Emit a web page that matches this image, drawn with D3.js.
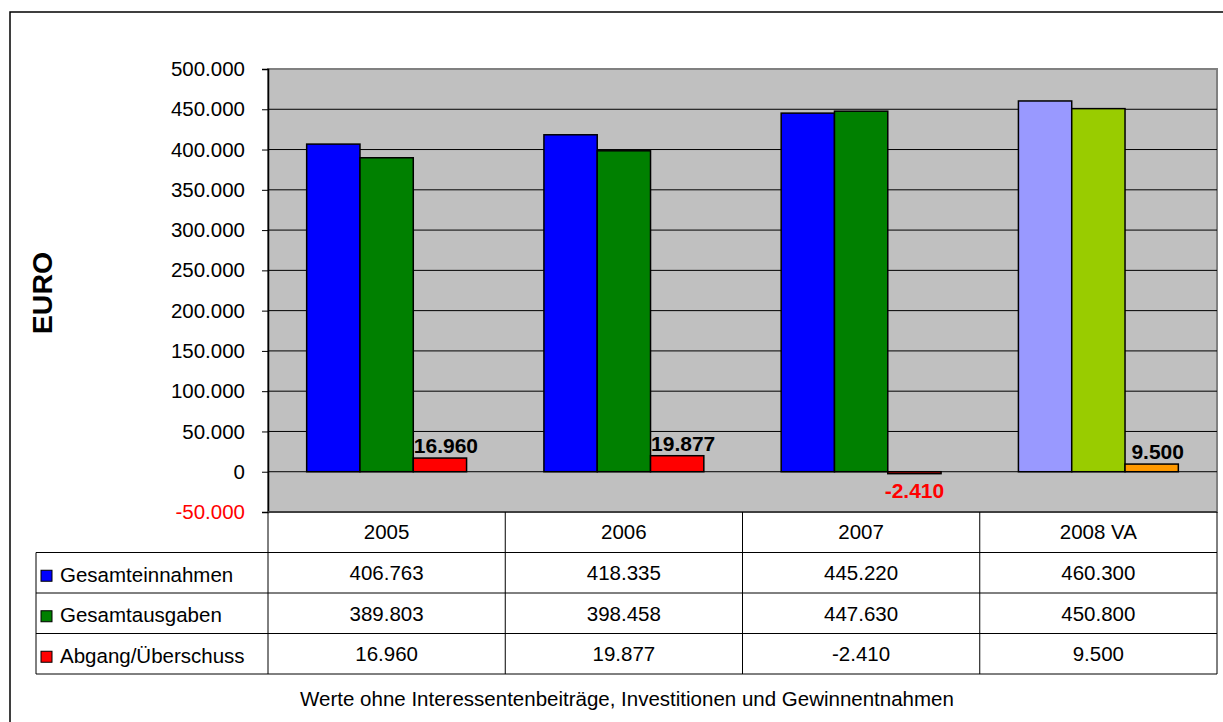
<!DOCTYPE html>
<html>
<head>
<meta charset="utf-8">
<script src="https://cdn.jsdelivr.net/npm/d3@7"></script>
<style>
body{margin:0;background:#fff;}
svg{display:block;font-family:"Liberation Sans",Arial,sans-serif;}
</style>
</head>
<body>
<svg id="chart"></svg>
<script>
// data
var years = ["2005", "2006", "2007", "2008 VA"];
var seriesNames = ["Gesamteinnahmen", "Gesamtausgaben", "Abgang/Überschuss"];
var einnahmen = [406763, 418335, 445220, 460300];
var ausgaben = [389803, 398458, 447630, 450800];
var ueberschuss = [16960, 19877, -2410, 9500];
var yTicks = [-50000, 0, 50000, 100000, 150000, 200000, 250000, 300000, 350000, 400000, 450000, 500000];

var colors = ["#0000ff", "#008000", "#ff0000"];
var colors2008 = ["#9999ff", "#99cc00", "#ff9900"];

var W = 1223, H = 722;
var plot = {left: 268, right: 1217, top: 69, bottom: 512};
var rowH = 40.5;
var fs = 20.5;

var svg = d3.select("#chart").attr("width", W).attr("height", H);

// outer frame
svg.append("rect").attr("x", 10).attr("y", 12).attr("width", W).attr("height", H)
  .attr("fill", "none").attr("stroke", "#000").attr("stroke-width", 1.5);

var fmt = function(v){
  return d3.format(",")(v).replace(/,/g, ".").replace("\u2212", "-");
};

var y = d3.scaleLinear().domain([-50000, 500000]).range([plot.bottom, plot.top]);
var x0 = d3.scaleBand().domain(years).range([plot.left, plot.right])
  .paddingInner(0.326).paddingOuter(0.163);
var x1 = d3.scaleBand().domain(seriesNames).range([0, x0.bandwidth()]);
var xCol = d3.scaleBand().domain(years).range([plot.left, plot.right]);

// plot background
svg.append("rect").attr("x", plot.left).attr("y", plot.top)
  .attr("width", plot.right - plot.left).attr("height", plot.bottom - plot.top)
  .attr("fill", "#c0c0c0").attr("stroke", "#808080").attr("stroke-width", 2);

// gridlines
svg.append("g").selectAll("line").data(yTicks.filter(function(d){return d > -50000 && d < 500000;}))
  .enter().append("line")
  .attr("x1", plot.left).attr("x2", plot.right)
  .attr("y1", function(d){return y(d);}).attr("y2", function(d){return y(d);})
  .attr("stroke", "#000").attr("stroke-width", 1);

// y axis
var yAxis = svg.append("g").attr("transform", "translate(" + plot.left + ",0)")
  .call(d3.axisLeft(y).tickValues(yTicks).tickSize(6).tickPadding(17).tickFormat(fmt));
yAxis.select(".domain").attr("stroke", "#000").attr("stroke-width", 1.5);
yAxis.selectAll(".tick line").attr("stroke", "#000");
yAxis.selectAll(".tick text")
  .attr("font-size", fs).attr("font-family", "Liberation Sans, Arial, sans-serif")
  .attr("fill", function(d){return d < 0 ? "#ff0000" : "#000";});

// bars
var rows = years.map(function(yr, i){
  return {year: yr, i: i, values: [einnahmen[i], ausgaben[i], ueberschuss[i]]};
});
var groups = svg.append("g").selectAll("g").data(rows).enter().append("g")
  .attr("transform", function(d){return "translate(" + x0(d.year) + ",0)";});
groups.selectAll("rect").data(function(d){
    return d.values.map(function(v, k){return {v: v, k: k, i: d.i};});
  }).enter().append("rect")
  .attr("x", function(d){return x1(seriesNames[d.k]);})
  .attr("width", x1.bandwidth())
  .attr("y", function(d){return y(Math.max(0, d.v));})
  .attr("height", function(d){return Math.abs(y(d.v) - y(0));})
  .attr("fill", function(d){return d.i === 3 ? colors2008[d.k] : colors[d.k];})
  .attr("stroke", "#000").attr("stroke-width", 1.5);

// data labels on third series
groups.append("text")
  .attr("x", function(d){return x1(seriesNames[2]) + x1.bandwidth() / 2 + (d.values[2] > 0 ? 6 : 0);})
  .attr("y", function(d){var v = d.values[2]; return v >= 0 ? y(v) - 5 : y(v) + 24;})
  .attr("text-anchor", "middle")
  .attr("font-size", 21).attr("font-weight", "bold")
  .attr("fill", function(d){return d.values[2] < 0 ? "#ff0000" : "#000";})
  .text(function(d){return fmt(d.values[2]);});

// y axis title
svg.append("text").attr("transform", "translate(52,293) rotate(-90)")
  .attr("text-anchor", "middle").attr("font-size", 28.5).attr("font-weight", "bold")
  .text("EURO");

// data table
var tbl = svg.append("g").attr("stroke", "#000").attr("stroke-width", 1);
var tableLeft = 36;
var rowY = [plot.bottom, plot.bottom + rowH, plot.bottom + 2 * rowH, plot.bottom + 3 * rowH, plot.bottom + 4 * rowH];
tbl.selectAll("line.h").data(rowY.slice(1)).enter().append("line")
  .attr("x1", tableLeft).attr("x2", plot.right)
  .attr("y1", function(d){return d;}).attr("y2", function(d){return d;});
tbl.append("line").attr("x1", plot.left).attr("x2", plot.right)
  .attr("y1", plot.bottom).attr("y2", plot.bottom).attr("stroke-width", 2).attr("stroke", "#404040");
tbl.selectAll("line.v").data(years).enter().append("line")
  .attr("x1", function(d){return xCol(d) + xCol.bandwidth();})
  .attr("x2", function(d){return xCol(d) + xCol.bandwidth();})
  .attr("y1", plot.bottom).attr("y2", rowY[4]);
tbl.append("line").attr("x1", plot.left).attr("x2", plot.left)
  .attr("y1", plot.bottom).attr("y2", rowY[4]);
tbl.append("line").attr("x1", tableLeft).attr("x2", tableLeft)
  .attr("y1", rowY[1]).attr("y2", rowY[4]);

// header row
svg.append("g").selectAll("text").data(years).enter().append("text")
  .attr("x", function(d){return xCol(d) + xCol.bandwidth() / 2;})
  .attr("y", plot.bottom + rowH / 2 + 6.5)
  .attr("text-anchor", "middle").attr("font-size", fs)
  .text(function(d){return d;});

// series rows
var tableSeries = [einnahmen, ausgaben, ueberschuss];
tableSeries.forEach(function(vals, k){
  var cy = rowY[k + 1] + rowH / 2;
  svg.append("rect").attr("x", 41).attr("y", cy - 2.5).attr("width", 11).attr("height", 11)
    .attr("fill", colors[k]).attr("stroke", "#000").attr("stroke-width", 1);
  svg.append("text").attr("x", 60).attr("y", cy + 9).attr("font-size", fs)
    .text(seriesNames[k]);
  svg.append("g").selectAll("text").data(vals).enter().append("text")
    .attr("x", function(d, i){return xCol(years[i]) + xCol.bandwidth() / 2;})
    .attr("y", cy + 7.5)
    .attr("text-anchor", "middle").attr("font-size", fs)
    .text(function(d){return fmt(d);});
});

// footnote
svg.append("text").attr("x", 627).attr("y", 706).attr("text-anchor", "middle")
  .attr("font-size", fs)
  .text("Werte ohne Interessentenbeiträge, Investitionen und Gewinnentnahmen");
</script>
</body>
</html>
